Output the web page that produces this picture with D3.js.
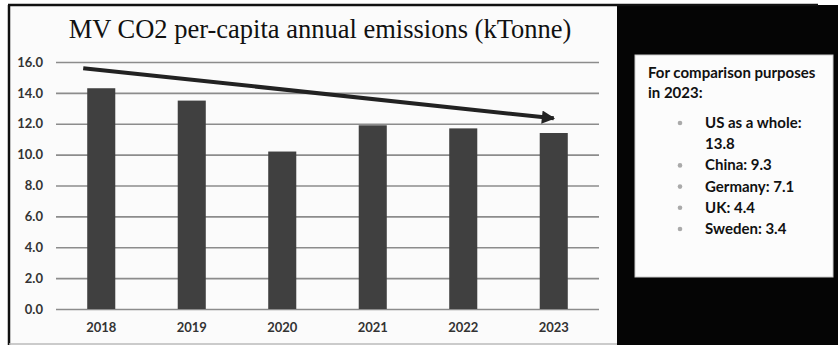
<!DOCTYPE html>
<html>
<head>
<meta charset="utf-8">
<script src="https://cdn.jsdelivr.net/npm/d3@7"></script>
<style>
  body { margin: 0; background: #fff; }
  svg { display: block; }
</style>
</head>
<body>
<div class="chart"></div>
<script>
// chart data
const years = ['2018', '2019', '2020', '2021', '2022', '2023'];
const emissions = [14.3, 13.5, 10.2, 11.9, 11.7, 11.4];
const yTicks = [0, 2, 4, 6, 8, 10, 12, 14, 16];
// trend arrow, from start of 2018 down to 2023
const trendFrom = {year: '2018', value: 15.6};
const trendTo = {year: '2023', value: 12.35};
const noteTitle = ['For comparison purposes', 'in 2023:'];
const noteItems = [['US as a whole:', '13.8'], ['China: 9.3'], ['Germany: 7.1'], ['UK: 4.4'], ['Sweden: 3.4']];

const svg = d3
  .select('.chart')
  .append('svg')
  .attr('width', 838)
  .attr('height', 345);

// slide background: white panel with black frame, black side area
svg.append('rect').attr('x', 0).attr('y', 0).attr('width', 838).attr('height', 345).attr('fill', '#fff');
svg.append('rect').attr('x', 9).attr('y', 5).attr('width', 608).attr('height', 340).attr('fill', '#fbfbfb');
svg.append('rect').attr('x', 617).attr('y', 5).attr('width', 221).attr('height', 340).attr('fill', '#050505');
svg.append('line').attr('x1', 8).attr('x2', 818).attr('y1', 5).attr('y2', 5)
  .attr('stroke', '#111').attr('stroke-width', 2.5);
svg.append('line').attr('x1', 9).attr('x2', 9).attr('y1', 5).attr('y2', 345)
  .attr('stroke', '#111').attr('stroke-width', 2.5);
svg.append('line').attr('x1', 9).attr('x2', 617).attr('y1', 344).attr('y2', 344)
  .attr('stroke', '#bbb').attr('stroke-width', 1.5);

svg
  .append('text')
  .attr('x', 320)
  .attr('y', 38)
  .attr('text-anchor', 'middle')
  .style('font', '26.5px "Liberation Serif", serif')
  .attr('fill', '#111')
  .text('MV CO2 per-capita annual emissions (kTonne)');

const x = d3.scaleBand().domain(years).range([56, 599]).paddingInner(0.69).paddingOuter(0.345);
const y = d3.scaleLinear().domain([0, 16]).range([309, 62]);

const gy = svg
  .append('g')
  .attr('transform', 'translate(56,0)')
  .call(
    d3.axisLeft(y)
      .tickValues(yTicks)
      .tickFormat(d3.format('.1f'))
      .tickSize(-543)
      .tickPadding(13),
  );
gy.select('.domain').remove();
gy.selectAll('.tick line').attr('stroke', '#8c8c8c').attr('stroke-width', 1.6);
gy.selectAll('.tick text')
  .attr('fill', '#333')
  .style('font', 'bold 13px Lato, sans-serif');

svg
  .selectAll('.bar')
  .data(emissions)
  .enter()
  .append('rect')
  .attr('class', 'bar')
  .attr('x', (d, i) => x(years[i]))
  .attr('y', d => y(d))
  .attr('width', x.bandwidth())
  .attr('height', d => y(0) - y(d))
  .attr('fill', '#404040');

const gx = svg
  .append('g')
  .attr('transform', `translate(0,${y(0)})`)
  .call(d3.axisBottom(x).tickSize(0).tickPadding(14));
gx.select('.domain').remove();
gx.selectAll('.tick text')
  .attr('fill', '#333')
  .style('font', 'bold 13px Lato, sans-serif');

// trend arrow
svg
  .append('defs')
  .append('marker')
  .attr('id', 'head')
  .attr('viewBox', '0 0 10 10')
  .attr('refX', 9)
  .attr('refY', 5)
  .attr('markerWidth', 3.4)
  .attr('markerHeight', 3.3)
  .attr('orient', 'auto')
  .attr('markerUnits', 'strokeWidth')
  .append('path')
  .attr('d', 'M0,0L10,5L0,10z')
  .attr('fill', '#222');

svg
  .append('line')
  .attr('x1', x(trendFrom.year) - 4)
  .attr('y1', y(trendFrom.value))
  .attr('x2', x(trendTo.year) + x.bandwidth() / 2)
  .attr('y2', y(trendTo.value))
  .attr('stroke', '#222')
  .attr('stroke-width', 4)
  .attr('marker-end', 'url(#head)');

// comparison box
svg.append('rect').attr('x', 635).attr('y', 55).attr('width', 198).attr('height', 222)
  .attr('fill', '#fcfcfc').attr('stroke', '#ccc').attr('stroke-width', 1);

svg
  .selectAll('.note-title')
  .data(noteTitle)
  .enter()
  .append('text')
  .attr('class', 'note-title')
  .attr('x', 648)
  .attr('y', (d, i) => 78 + i * 20)
  .attr('fill', '#111')
  .style('font', 'bold 15px Lato, sans-serif')
  .text(d => d);

const lines = [];
noteItems.forEach(item => {
  item.forEach((t, j) => lines.push({text: t, bullet: j === 0}));
});

const items = svg
  .selectAll('.note-item')
  .data(lines)
  .enter()
  .append('g')
  .attr('class', 'note-item')
  .attr('transform', (d, i) => `translate(0,${128 + i * 21.2})`);

items
  .filter(d => d.bullet)
  .append('circle')
  .attr('cx', 680)
  .attr('cy', -5)
  .attr('r', 2.3)
  .attr('fill', '#aaa');

items
  .append('text')
  .attr('x', 705)
  .attr('fill', '#111')
  .style('font', 'bold 15px Lato, sans-serif')
  .text(d => d.text);
</script>
</body>
</html>
